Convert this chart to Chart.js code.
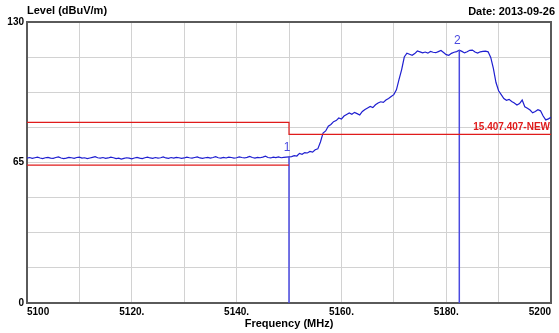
<!DOCTYPE html>
<html>
<head>
<meta charset="utf-8">
<title>Level (dBuV/m)</title>
<script src="https://cdn.jsdelivr.net/npm/chart.js@4.4.1/dist/chart.umd.min.js"></script>
<style>
  html, body { margin: 0; padding: 0; background: #fff; }
  #wrap { width: 559px; height: 333px; position: relative; }
</style>
</head>
<body>
<div id="wrap"><canvas id="scan"></canvas></div>
<script>
// Sweep: 5100..5200 MHz, one reading every 0.5 MHz
const freqStart = 5100;
const freqStep = 0.5;
const levels = [
  67.0, 67.3, 66.9, 67.2, 67.5, 67.1, 66.8, 67.2, 67.4, 67.0,
  66.9, 67.3, 67.6, 67.1, 66.8, 67.0, 67.4, 67.2, 66.9, 67.3,
  67.5, 67.0, 67.2, 66.8, 67.1, 67.4, 67.7, 67.2, 67.0, 67.3,
  66.9, 67.1, 67.5, 67.2, 66.8, 67.0, 66.6, 66.9, 67.2, 67.0,
  66.7, 67.1, 67.4, 67.0, 66.8, 67.2, 67.5, 67.1, 66.9, 67.3,
  67.0, 67.2, 67.6, 67.1, 66.9, 67.3, 67.0, 67.4, 67.2, 66.9,
  67.1, 67.5, 67.2, 67.0, 67.3, 67.6, 67.1, 66.9, 67.2, 67.4,
  67.0, 67.3, 67.7, 67.2, 67.0, 67.4, 67.1, 67.5, 67.3, 67.0,
  67.2, 67.6, 67.3, 67.1, 67.4, 67.8, 67.3, 67.0, 67.4, 67.2,
  67.5, 67.9, 67.3, 67.1, 67.5, 67.3, 67.6, 67.2, 67.4, 67.5,
  67.6, 67.7, 68.2, 68.0, 69.2, 68.8, 69.6, 69.4, 70.1, 69.8,
  70.9, 71.3, 74.5, 78.6, 79.6, 81.8, 82.6, 83.9, 84.4, 85.6,
  85.1, 86.5, 87.2, 87.9, 87.3, 88.2, 87.6, 87.0, 88.6, 89.5,
  90.2, 90.9, 90.4, 91.7, 92.5, 93.1, 92.8, 93.9, 94.6, 95.5,
  96.4, 98.6, 103.5, 108.0, 113.8, 115.6, 115.1, 114.6, 115.4, 116.6,
  116.2, 115.7, 116.1, 115.6, 116.4, 116.0, 115.8, 116.3, 116.8, 115.9,
  114.9, 114.6, 115.5, 116.0, 116.3, 117.0, 116.4, 115.7, 116.2, 116.9,
  117.0, 116.1, 115.6, 116.2, 116.4, 116.5, 116.2, 113.6, 108.5, 102.0,
  98.2, 96.4, 94.6, 93.8, 94.2, 93.2, 92.5, 91.6, 92.3, 93.9,
  90.8, 90.1, 89.3, 88.0, 88.6, 89.4, 88.9, 86.5, 84.7, 85.2,
  85.9
];

// Limit line (stepped) and the lower band edge
const limitFreqs = [5100, 5150, 5150, 5200];
const limitLevels = [83.6, 83.6, 78.0, 78.0];
const lowerFreqs = [5100, 5150];
const lowerLevels = [63.8, 63.8];
const limitName = "15.407.407-NEW";

// Markers
const markerNames = ["1", "2"];
const markerFreqs = [5150, 5182.5];
const markerLevels = [67.6, 117.0];

// Axes
const xMin = 5100, xMax = 5200, xGridStep = 10;
const xLabelValues = [5100, 5120, 5140, 5160, 5180, 5200];
const yGridValues = [0, 16.25, 32.5, 48.75, 65, 81.25, 97.5, 113.75, 130];
const yLabelValues = [0, 65, 130];

const traceBlue = "#1f1fd0";
const markerBlue = "#4a4ae0";
const limitRed = "#e01b1b";
const tickFont = { family: "'Liberation Sans', Arial, sans-serif", size: 10, weight: "bold" };

const trace = levels.map((v, i) => ({ x: freqStart + i * freqStep, y: v }));
const pts = (xs, ys) => xs.map((x, i) => ({ x, y: ys[i] }));

const markerSets = markerFreqs.map((f, i) => ({
  data: [{ x: f, y: 0 }, { x: f, y: markerLevels[i] }],
  borderColor: markerBlue,
  borderWidth: 1.5,
  pointRadius: 0
}));

// Frame, titles, marker numbers and the limit name
const decor = {
  id: "decor",
  beforeDatasetsDraw(chart) {
    const { ctx, chartArea: a } = chart;
    ctx.save();
    ctx.strokeStyle = "#5a5a5a";
    ctx.lineWidth = 2;
    ctx.strokeRect(a.left, a.top, a.right - a.left, a.bottom - a.top);
    ctx.restore();
  },
  afterDraw(chart) {
    const { ctx, chartArea: a, scales } = chart;
    const x = scales.x, y = scales.y;
    ctx.save();
    ctx.fillStyle = "#000";
    ctx.textBaseline = "middle";
    ctx.font = "bold 11px 'Liberation Sans', Arial, sans-serif";
    ctx.textAlign = "left";
    ctx.fillText("Level (dBuV/m)", a.left, 11);
    ctx.textAlign = "right";
    ctx.fillText("Date: 2013-09-26", 555, 12);
    ctx.textAlign = "center";
    ctx.fillText("Frequency (MHz)", (a.left + a.right) / 2, 324);

    ctx.font = "12px 'Liberation Sans', Arial, sans-serif";
    ctx.fillStyle = markerBlue;
    markerNames.forEach((n, i) => {
      ctx.fillText(n, x.getPixelForValue(markerFreqs[i]) - 2, y.getPixelForValue(markerLevels[i]) - 9);
    });

    ctx.font = "bold 10px 'Liberation Sans', Arial, sans-serif";
    ctx.fillStyle = limitRed;
    ctx.textAlign = "right";
    ctx.fillText(limitName, a.right - 1, y.getPixelForValue(limitLevels[limitLevels.length - 1]) - 7);
    ctx.restore();
  }
};

new Chart(document.getElementById("scan"), {
  type: "line",
  data: {
    datasets: [
      { data: pts(limitFreqs, limitLevels), borderColor: limitRed, borderWidth: 1.2, pointRadius: 0 },
      { data: pts(lowerFreqs, lowerLevels), borderColor: limitRed, borderWidth: 1.2, pointRadius: 0 },
      ...markerSets,
      { data: trace, borderColor: traceBlue, borderWidth: 1.2, pointRadius: 0 }
    ]
  },
  options: {
    responsive: true,
    maintainAspectRatio: false,
    animation: false,
    layout: { padding: { top: 22, right: 8, left: 0, bottom: 0 } },
    plugins: { legend: { display: false }, tooltip: { enabled: false }, title: { display: false } },
    elements: { line: { tension: 0 } },
    scales: {
      x: {
        type: "linear",
        min: xMin,
        max: xMax,
        afterFit: s => { s.height = 30; },
        afterBuildTicks: s => { s.ticks = [];
          for (let v = xMin; v <= xMax; v += xGridStep) s.ticks.push({ value: v }); },
        ticks: {
          autoSkip: false,
          maxRotation: 0,
          align: "inner",
          padding: 3,
          color: "#000",
          font: tickFont,
          callback: (v) => {
            if (!xLabelValues.includes(v)) return "";
            return (v === xMin || v === xMax) ? String(v) : v + ".";
          }
        },
        grid: { color: "#d2d2d2", lineWidth: 1, drawTicks: false },
        border: { display: false }
      },
      y: {
        min: 0,
        max: 130,
        afterFit: s => { s.width = 27; },
        afterBuildTicks: s => { s.ticks = yGridValues.map(v => ({ value: v })); },
        ticks: {
          autoSkip: false,
          padding: 3,
          color: "#000",
          font: tickFont,
          callback: (v) => yLabelValues.includes(v) ? String(v) : ""
        },
        grid: { color: "#d2d2d2", lineWidth: 1, drawTicks: false },
        border: { display: false }
      }
    }
  },
  plugins: [decor]
});
</script>
</body>
</html>
